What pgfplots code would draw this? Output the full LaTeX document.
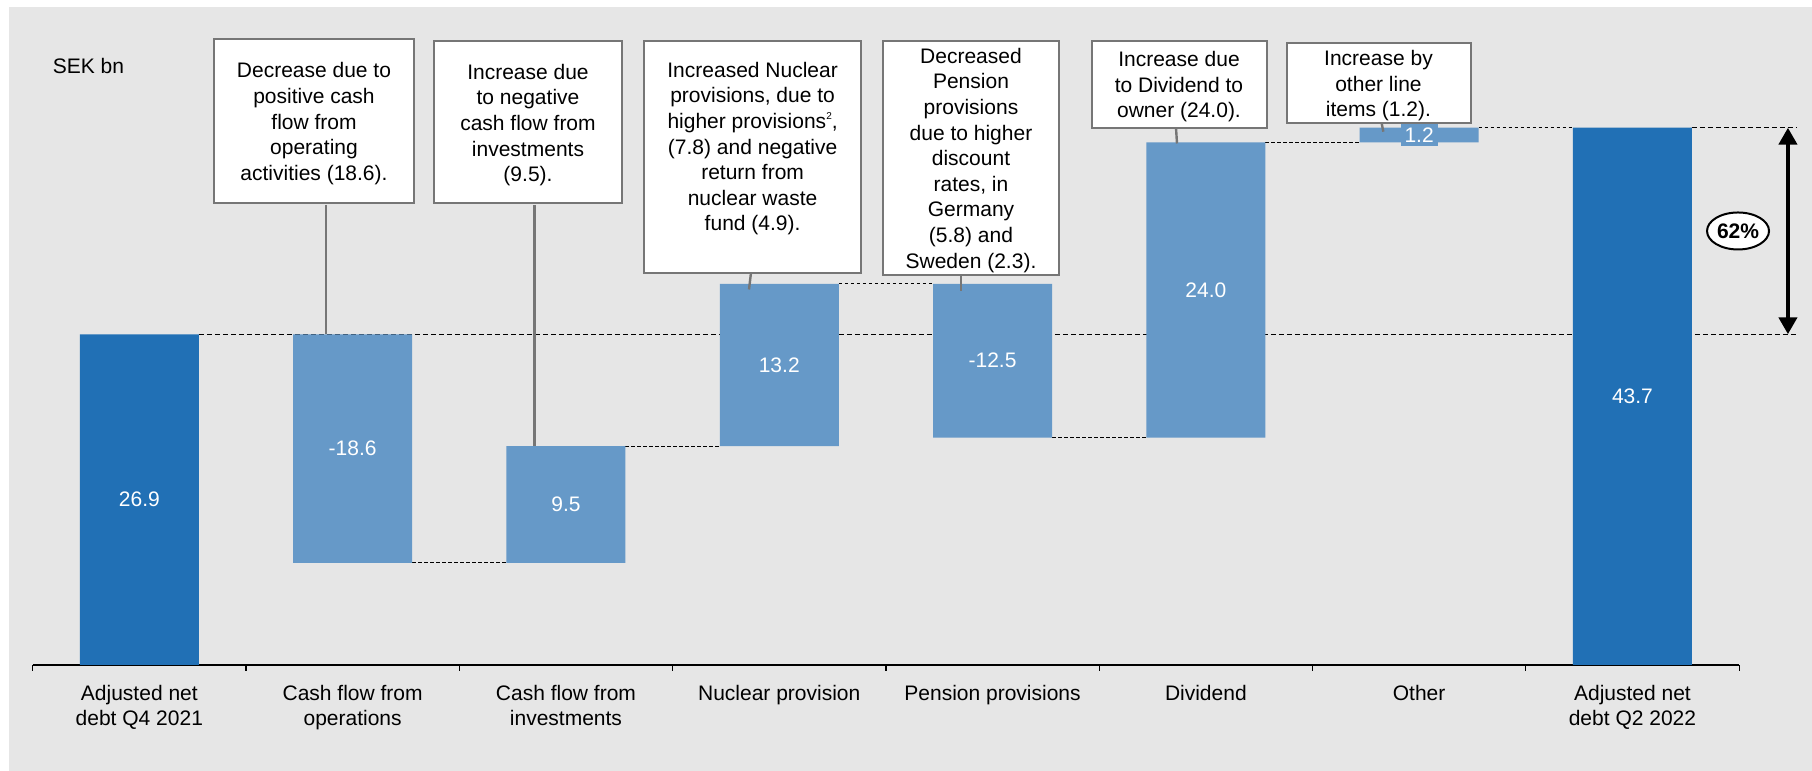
\documentclass[border=0pt]{standalone}
\usepackage{fontspec}
\setmainfont{Liberation Sans}
\usepackage{pgfplots}
\pgfplotsset{compat=1.18}
\usetikzlibrary{arrows.meta,shapes.geometric}

\definecolor{bg}{HTML}{E6E6E6}
\definecolor{dark}{HTML}{2170B5}
\definecolor{light}{HTML}{6699C8}
\definecolor{boxgray}{HTML}{767676}

\newcommand\lbl{\fontsize{10.5}{12.8}\selectfont}

% same frame for the bar axis and the label overlay
\pgfplotsset{wf/.style={at={(16.35pt,53pt)}, anchor=south west,
    x=106.65pt, y=6.1475pt, xmin=-0.5, xmax=7.5, ymin=0, ymax=53.49, clip=false}}

\begin{document}
\begin{tikzpicture}
\fill[white] (0,0) rectangle (906pt,385.5pt);
\fill[bg] (4.5pt,0) rectangle (906pt,381.85pt);

\begin{axis}[wf, ybar stacked, bar width=59.5pt,
    axis x line*=bottom, axis y line=none, ytick=\empty,
    xtick={0,1,2,3,4,5,6,7}, major tick length=0pt,
    minor xtick={-0.5,0.5,1.5,2.5,3.5,4.5,5.5,6.5,7.5}, minor tick length=3pt, tick align=outside,
    minor tick style={black, line width=0.6pt},
    axis line style={black, line width=1pt},
    xticklabels={{Adjusted net\\debt Q4 2021}, {Cash flow from\\operations},
      {Cash flow from\\investments}, {Nuclear provision}, {Pension provisions},
      {Dividend}, {Other}, {Adjusted net\\debt Q2 2022}},
    xticklabel style={font=\lbl, align=center, anchor=north, yshift=-9.8pt, inner sep=0pt},
  ]
  % invisible base, totals, changes
  \addplot[draw=none, fill=none] coordinates {(0,0) (1,8.3) (2,8.3) (3,17.8) (4,18.5) (5,18.5) (6,42.5) (7,0)};
  \addplot[draw=none, fill=dark] coordinates {(0,26.9) (1,0) (2,0) (3,0) (4,0) (5,0) (6,0) (7,43.7)};
  \addplot[draw=none, fill=light] coordinates {(0,0) (1,18.6) (2,9.5) (3,13.2) (4,12.5) (5,24.0) (6,1.2) (7,0)};

  % connectors
  \draw[black, line width=0.5pt, dash pattern=on 2.5pt off 1.5pt] (axis cs:0.279,26.9) -- (axis cs:7.771,26.9);
  \draw[black, line width=0.5pt, dash pattern=on 2.5pt off 1.5pt] (axis cs:7.279,43.7) -- (axis cs:7.771,43.7);
  \draw[black, line width=0.5pt, dash pattern=on 1.8pt off 1.2pt] (axis cs:1.279,8.3) -- (axis cs:1.721,8.3);
  \draw[black, line width=0.5pt, dash pattern=on 1.8pt off 1.2pt] (axis cs:2.279,17.8) -- (axis cs:2.721,17.8);
  \draw[black, line width=0.5pt, dash pattern=on 1.8pt off 1.2pt] (axis cs:3.279,31.0) -- (axis cs:3.721,31.0);
  \draw[black, line width=0.5pt, dash pattern=on 1.8pt off 1.2pt] (axis cs:4.279,18.5) -- (axis cs:4.721,18.5);
  \draw[black, line width=0.5pt, dash pattern=on 1.8pt off 1.2pt] (axis cs:5.279,42.5) -- (axis cs:5.721,42.5);
  \draw[black, line width=0.5pt, dash pattern=on 1.8pt off 1.2pt] (axis cs:6.279,43.7) -- (axis cs:6.721,43.7);

  \draw[line width=2.2pt, {Triangle[width=9pt,length=8.5pt]}-{Triangle[width=9pt,length=8.5pt]}]
    (axis cs:7.729,26.9) -- (axis cs:7.729,43.7);
  \node[ellipse, draw=black, line width=1pt, fill=white, minimum width=31pt,
    minimum height=18.5pt, inner sep=0pt, font=\lbl\bfseries] at (axis cs:7.495,35.3) {62\%};
\end{axis}

\begin{axis}[wf, hide axis]
  \addplot[only marks, mark=none, nodes near coords, point meta=explicit symbolic,
    every node near coord/.append style={anchor=center, text=white, font=\lbl}]
    table[meta=lab] {
x y lab
0 13.45 26.9
7 21.85 43.7
};
  \addplot[only marks, mark=none, nodes near coords, point meta=explicit symbolic,
    every node near coord/.append style={anchor=center, text=white, font=\lbl,
      fill=light, inner sep=2pt}]
    table[meta=lab] {
x y lab
1 17.6 -18.6
2 13.05 9.5
3 24.4 13.2
4 24.75 -12.5
5 30.5 24.0
6 43.1 1.2
};
\end{axis}

\begin{scope}[x=0.5pt, y=-0.5pt, yshift=385.5pt]
  \tikzset{box/.style={draw=boxgray, line width=1.15pt, fill=white},
    lead/.style={draw=boxgray, line width=1.2pt},
    txt/.style={anchor=base, inner sep=0pt, font=\lbl}}
  \node[anchor=base west, inner sep=0pt, font=\lbl] at (52.5,74) {SEK bn};

  \draw[lead] (326,205) -- (326,334.3);
  \draw[lead] (534.3,205) -- (534.3,446.2);
  \draw[lead] (751,272.7) -- (749,289.5);
  \draw[lead] (960.7,275.3) -- (960.7,291);
  \draw[lead] (1176,127.7) -- (1177,143.5);
  \draw[lead] (1381.7,123.3) -- (1383.3,131.7);

  \draw[box] (214,39.3) rectangle (414,202.7);
  \node[txt] at (314,78) {\begin{tabular}[t]{@{}c@{}}Decrease due to\\positive cash\\flow from\\operating\\activities (18.6).\end{tabular}};

  \draw[box] (434,41.3) rectangle (622,202.7);
  \node[txt] at (528,79.3) {\begin{tabular}[t]{@{}c@{}}Increase due\\to negative\\cash flow from\\investments\\(9.5).\end{tabular}};

  \draw[box] (644,40.7) rectangle (861.3,272.7);
  \node[txt] at (752.6,77.3) {\begin{tabular}[t]{@{}c@{}}Increased Nuclear\\provisions, due to\\higher provisions\raisebox{0.45em}{\fontsize{5}{5}\selectfont 2},\\(7.8) and negative\\return from\\nuclear waste\\fund (4.9).\end{tabular}};

  \draw[box] (883.3,40.7) rectangle (1058.7,275.3);
  \node[txt] at (971,63.3) {\begin{tabular}[t]{@{}c@{}}Decreased\\Pension\\provisions\\due to higher\\discount\\rates, in\\Germany\\(5.8) and\\Sweden (2.3).\end{tabular}};

  \draw[box] (1091.7,41.3) rectangle (1266.7,127.7);
  \node[txt] at (1179,66.7) {\begin{tabular}[t]{@{}c@{}}Increase due\\to Dividend to\\owner (24.0).\end{tabular}};

  \draw[box] (1286.7,43.3) rectangle (1470.7,123.3);
  \node[txt] at (1378.5,65.7) {\begin{tabular}[t]{@{}c@{}}Increase by\\other line\\items (1.2).\end{tabular}};
\end{scope}

\pgfresetboundingbox
\path[use as bounding box] (0,0) rectangle (906pt,385.5pt);
\end{tikzpicture}
\end{document}
